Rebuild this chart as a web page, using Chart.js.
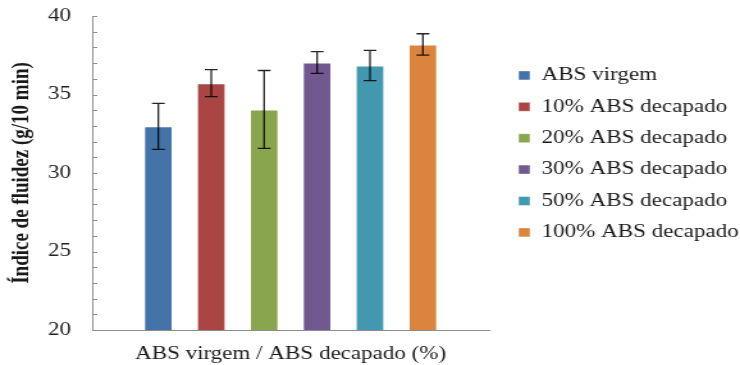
<!DOCTYPE html>
<html>
<head>
<meta charset="utf-8">
<script src="https://cdn.jsdelivr.net/npm/chart.js@4"></script>
<style>
  html, body { margin: 0; padding: 0; background: #ffffff; }
  #c { display: block; width: 740px; height: 365px; }
</style>
</head>
<body>
<canvas id="c" width="578" height="365" style="width:740px;height:365px;"></canvas>
<script>
// ---- data ----
const categories = [''];
const seriesNames = ['ABS virgem', '10% ABS decapado', '20% ABS decapado', '30% ABS decapado', '50% ABS decapado', '100% ABS decapado'];
const seriesValues = [32.97, 35.72, 34.05, 37.04, 36.85, 38.19];
const seriesErrors = [1.47, 0.86, 2.48, 0.69, 0.96, 0.68];
const seriesColors = ['#4473A8', '#A94643', '#89A54E', '#71588F', '#4298AF', '#DB843D'];
const yTickLabels = [20, 25, 30, 35, 40];
const xTitle = 'ABS virgem / ABS decapado (%)';
const yTitle = 'Índice de fluidez (g/10 min)';

// ---- layout constants (canvas is stretched horizontally to 740px) ----
const FONT = '"Liberation Serif", "Times New Roman", serif';
const LEG_PAD = 13.4, BOX = 9;
const GAP = 9.6, LEGEND_W = 186.4;

Chart.defaults.font.family = FONT;
Chart.defaults.color = '#1a1a1a';

const errorBars = {
  id: 'errorBars',
  afterDatasetsDraw(chart) {
    const ctx = chart.ctx, ys = chart.scales.y;
    ctx.save();
    ctx.strokeStyle = 'rgba(0,0,0,0.85)';
    ctx.lineWidth = 1.3;
    chart.data.datasets.forEach((ds, i) => {
      const bar = chart.getDatasetMeta(i).data[0];
      if (!bar) return;
      const v = ds.data[0], e = seriesErrors[i];
      const yHi = ys.getPixelForValue(v + e), yLo = ys.getPixelForValue(v - e);
      const x = bar.x, h = 5;
      ctx.beginPath();
      ctx.moveTo(x, yHi); ctx.lineTo(x, yLo);
      ctx.moveTo(x - h, yHi); ctx.lineTo(x + h, yHi);
      ctx.moveTo(x - h, yLo); ctx.lineTo(x + h, yLo);
      ctx.stroke();
    });
    ctx.restore();
  }
};

const innerTicks = {
  id: 'innerTicks',
  afterDraw(chart) {
    const ctx = chart.ctx, ys = chart.scales.y;
    ctx.save();
    ctx.strokeStyle = '#8c8c8c';
    ctx.lineWidth = 1;
    ys.ticks.forEach(t => {
      const py = Math.round(ys.getPixelForValue(t.value)) + 0.5;
      ctx.beginPath();
      ctx.moveTo(ys.right, py);
      ctx.lineTo(ys.right + 4, py);
      ctx.stroke();
    });
    ctx.restore();
  }
};

new Chart(document.getElementById('c'), {
  type: 'bar',
  data: {
    labels: categories,
    datasets: seriesNames.map((name, i) => ({
      label: name,
      data: [seriesValues[i]],
      backgroundColor: seriesColors[i],
      borderColor: 'rgba(255,255,255,0.45)',
      borderWidth: 1,
      categoryPercentage: 0.8,
      barPercentage: 0.55
    }))
  },
  options: {
    responsive: false,
    animation: false,
    devicePixelRatio: 1,
    layout: { padding: { top: 16, bottom: 0, left: 0, right: 0 } },
    plugins: {
      tooltip: { enabled: false },
      legend: {
        position: 'right',
        align: 'start',
        maxWidth: LEGEND_W,
        title: { display: true, text: '', font: { size: 18 }, padding: { top: 15.4, bottom: 0 } },
        labels: {
          boxWidth: BOX,
          boxHeight: BOX,
          padding: LEG_PAD,
          color: '#1a1a1a',
          font: { size: 18, family: FONT }
        }
      }
    },
    scales: {
      x: {
        grid: { display: false, drawTicks: false },
        border: { display: true, color: '#8c8c8c', width: 1 },
        ticks: { display: false },
        title: {
          display: true, text: xTitle, color: '#1a1a1a',
          font: { size: 18, family: FONT }, padding: { top: 0, bottom: 0 }
        },
        afterFit(s) { s.height = 35; }
      },
      y: {
        position: 'left',
        min: 20, max: 40,
        grid: { display: false, drawTicks: true, tickLength: 16.5 },
        border: { display: true, color: '#8c8c8c', width: 1 },
        ticks: {
          stepSize: 1,
          autoSkip: false,
          padding: 0,
          color: '#222222',
          font: { size: 18, family: FONT },
          callback: v => (yTickLabels.includes(v) ? String(v) : '')
        },
        title: {
          display: true, text: yTitle, color: '#1a1a1a',
          font: { size: 19, weight: 'bold', family: FONT }, padding: { top: 5.4, bottom: 0 }
        },
        afterFit(s) { s.width = 72; }
      },
      y2: {
        position: 'right',
        display: true,
        grid: { display: false, drawTicks: false },
        border: { display: false },
        ticks: { display: false },
        afterFit(s) { s.width = GAP; }
      }
    }
  },
  plugins: [errorBars, innerTicks]
});
</script>
</body>
</html>
